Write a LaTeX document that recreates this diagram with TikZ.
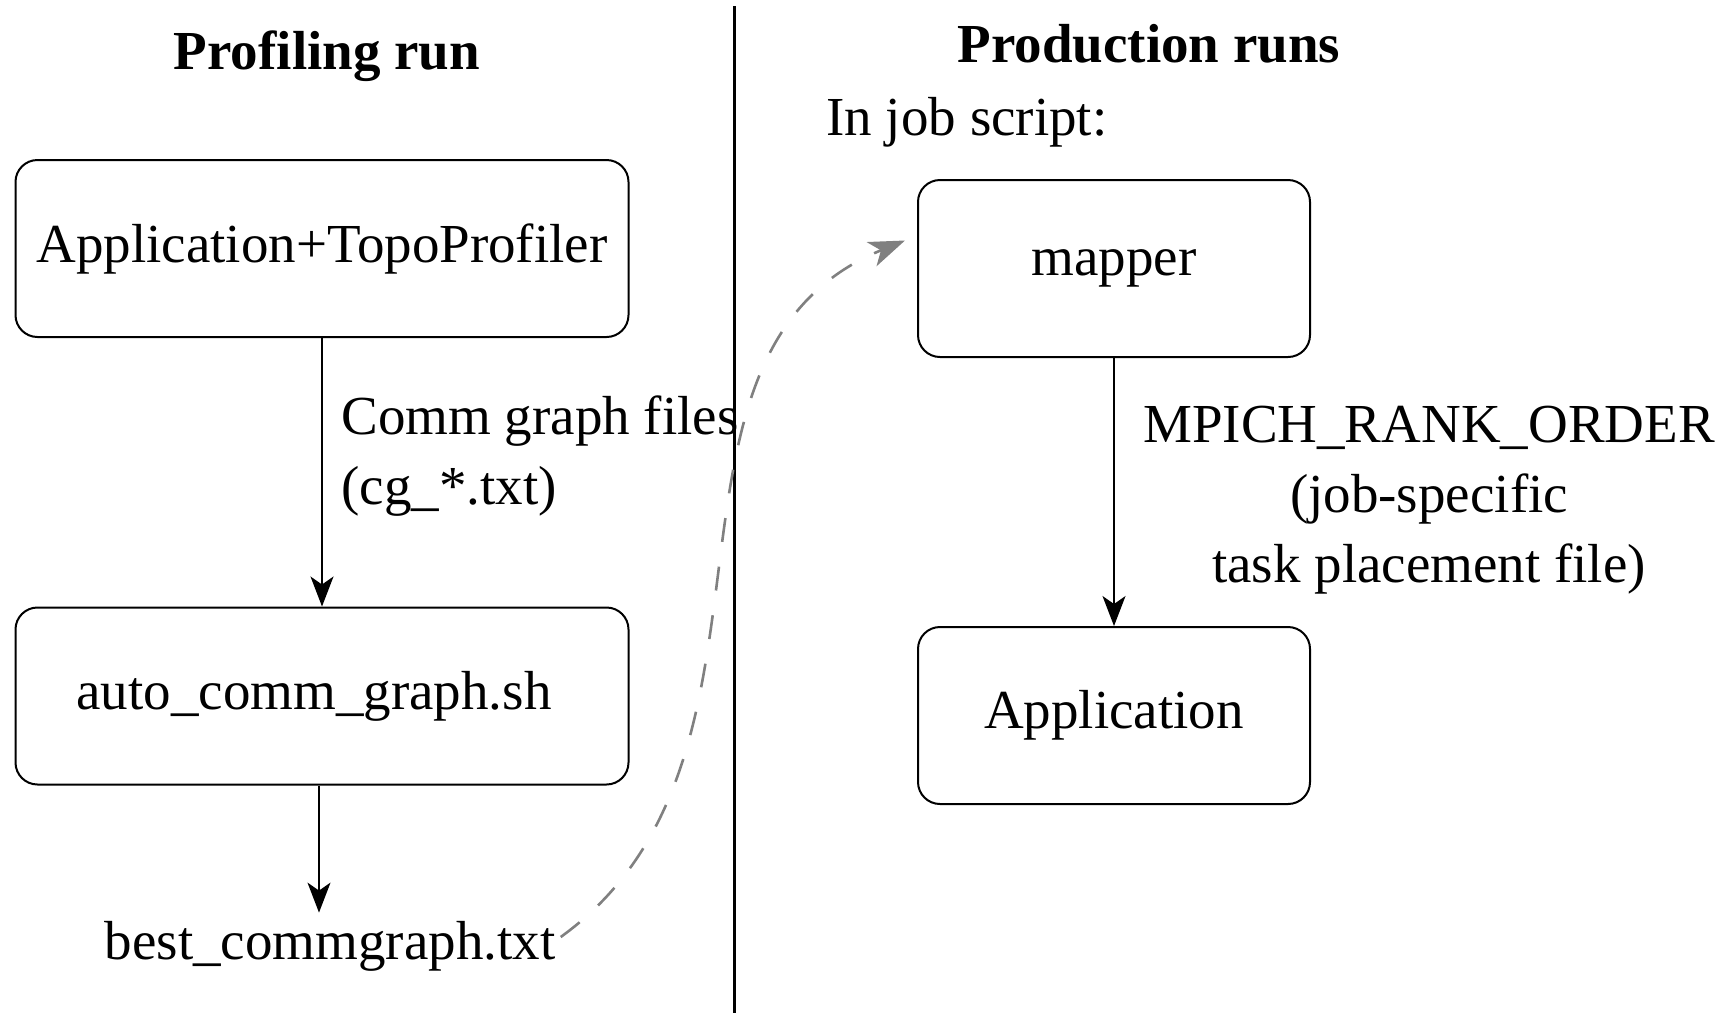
\documentclass[tikz,border=0pt]{standalone}
\usepackage{fontspec}
\setmainfont{Liberation Serif}
\usepackage{tikz}
\usetikzlibrary{calc,arrows.meta}
\definecolor{linkGrey}{HTML}{808080}
\newcommand{\diagfont}{\fontsize{27.5}{35}\selectfont}
\tikzset{
  stagebox/.style={rectangle, rounded corners=11pt, draw=black, line width=1pt, align=center, font=\diagfont, minimum width=306.5pt, minimum height=88.5pt, inner sep=0pt},
  runbox/.style={stagebox, minimum width=196pt},
  plaintext/.style={font=\diagfont, inner sep=4pt},
  headtext/.style={font=\diagfont\bfseries, inner sep=4pt},
  flowarrow/.style={-{Stealth[length=15pt,width=11.5pt,inset=4pt]}, line width=0.75pt, draw=black},
  linkarrow/.style={-{Stealth[length=18pt,width=13pt,inset=5pt]}, line width=1.3pt, draw=linkGrey, dash pattern=on 12pt off 12.5pt},
}

\begin{document}
\begin{tikzpicture}[x=0.5pt,y=-0.5pt]
  \useasboundingbox (0,0) rectangle (1732,1013);

  % ---------- divider ----------
  \draw[line width=1.2pt] (734.5,6) -- (734.5,1013);

  % ---------- headings ----------
  \node[headtext] (proftitle) at (327,56) {Profiling run};
  \node[headtext] (prodtitle) at (1149,44) {Production runs};
  \node[plaintext, anchor=west] (jobscript) at (818,122) {In job script:};

  % ---------- profiling run ----------
  \node[stagebox] (topo) at (322,248.5) {Application+TopoProfiler};
  \node[stagebox] (autocg) at (322,696) {\hspace*{-8pt}auto\_comm\_graph.sh};
  \node[plaintext] (best) at (330,946) {best\_commgraph.txt};

  % ---------- production runs ----------
  \node[runbox] (mapper) at (1114,268.5) {mapper};
  \node[runbox] (app) at (1114,715.5) {Application};

  % ---------- profiling flow ----------
  \draw[flowarrow] (topo) -- (autocg);
  \node[plaintext, anchor=west, align=left] (cglabel) at (333,456) {Comm graph files\\(cg\_*.txt)};
  \draw[flowarrow] ([xshift=-1.5pt]autocg.south) -- ([xshift=-1.5pt]autocg.south |- best.north);

  % ---------- profiling -> production ----------
  \coordinate (bestout) at ($(best.east)+(-3,-9)$);
  \coordinate (mapin) at ($(mapper.west)+(-12,-28)$);
  \draw[linkarrow] (bestout) .. controls (810,757) and (627,354) .. (mapin);

  % ---------- production flow ----------
  \draw[flowarrow] (mapper) -- (app);
  \node[plaintext, align=center] (rankorder) at (1429,500) {MPICH\_RANK\_ORDER\\(job-specific\\task placement file)};

\end{tikzpicture}
\end{document}
